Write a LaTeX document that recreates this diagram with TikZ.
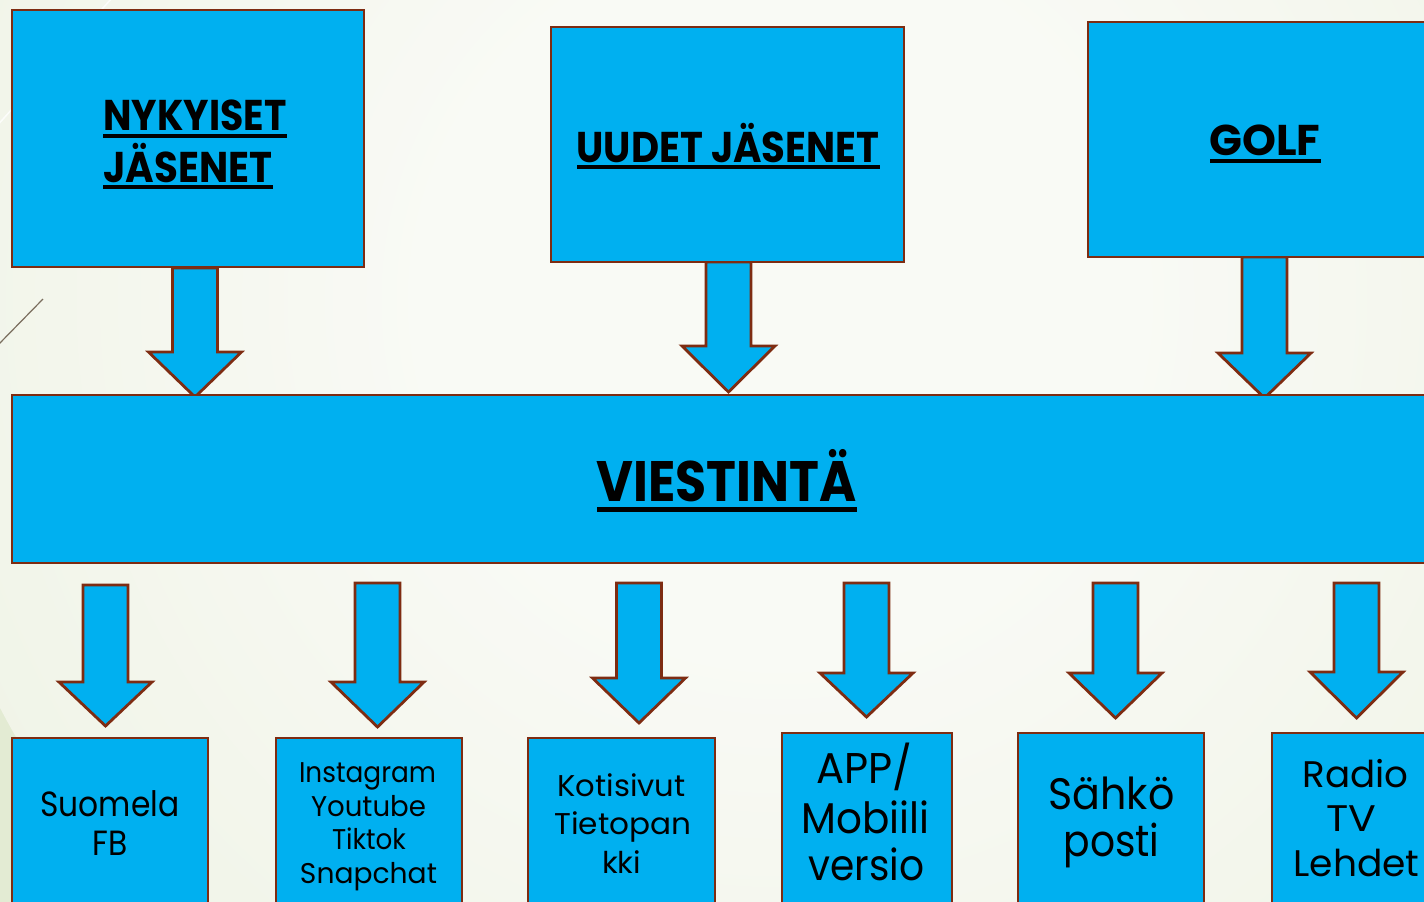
\documentclass[tikz,border=0pt]{standalone}
\usepackage{fontspec}
\setmainfont{Poppins}
\usepackage{graphicx}
\definecolor{boxfill}{HTML}{00B0F0}
\definecolor{boxline}{HTML}{7E2C12}
\definecolor{bgin}{HTML}{F9FAF5}
\definecolor{bgout}{HTML}{E3EBD3}
\definecolor{wisp}{HTML}{7A6E5E}
\pgfdeclareradialshading{bgshade}{\pgfpointorigin}{color(0bp)=(bgin); color(10bp)=(bgin); color(50bp)=(bgout)}
\tikzset{
  box/.style={draw=boxline, fill=boxfill, line width=2.8pt, rectangle, inner sep=0pt, outer sep=0pt, anchor=north west},
  blk/.style={draw=boxline, fill=boxfill, line width=2.8pt, line join=miter},
  tx/.style={inner sep=0pt, outer sep=0pt, anchor=base, text=black},
}
\newcommand\bx[5]{\node[box, minimum width=#4pt, minimum height=#5pt] (#1) at (#2,#3) {};}
\newcommand\barrow[4]{\draw[blk] (#1-22.5,#2) -- (#1+22.5,#2) -- (#1+22.5,#3) -- (#1+46.5,#3) -- (#1,#4) -- (#1-46.5,#3) -- (#1-22.5,#3) -- cycle;}
\newcommand\tline[6]{\node[tx,font=#2] (#1) at (#3,#4) {\resizebox{#5pt}{\height}{#6}};}
\newcommand\uline[3]{\fill[black] ([yshift=-#2pt]#1.base west) rectangle ([yshift=-#3pt]#1.base east);}
\newcommand\hdfont{\bfseries\fontsize{43}{43}\selectfont}
\begin{document}
\begin{tikzpicture}[x=1pt,y=-1pt]
\useasboundingbox (0,0) rectangle (1424,902);
\clip (0,0) rectangle (1424,902);
% background
\fill[bgout] (0,0) rectangle (1424,902);
\shade[shading=bgshade] (780,300) circle (880);
\draw[white, line width=1.5pt, opacity=0.8] (112,-2) -- (-5,128);
\draw[wisp, line width=1.2pt] (43,299) -- (-2,345);
% top arrows
\barrow{195}{268}{352}{397}
\barrow{728.5}{262}{346}{392}
\barrow{1264.5}{257}{353}{398}
% bottom arrows
\barrow{105.5}{585}{682}{726}
\barrow{377.5}{583}{682}{727}
\barrow{639}{583}{678}{723}
\barrow{866.5}{583}{673}{717}
\barrow{1115.5}{583}{673}{718}
\barrow{1356.5}{583}{672}{718}
% boxes
\bx{nyk}{12}{10}{352}{257}
\bx{uud}{551}{27}{353}{235}
\bx{golf}{1088}{22}{360}{235}
\bx{vie}{12}{395}{1430}{168}
\bx{suo}{12}{738}{196}{200}
\bx{ins}{276}{738}{186}{200}
\bx{kot}{528}{738}{187}{200}
\bx{app}{782}{733}{170}{200}
\bx{sah}{1018}{733}{186}{200}
\bx{rad}{1272}{733}{180}{200}
% headings
\tline{t1}{\hdfont}{195}{130}{183}{NYKYISET}
\uline{t1}{4}{7.5}
\tline{t2}{\hdfont}{188}{182}{169}{JÄSENET}
\uline{t2}{3}{6.5}
\tline{t3}{\hdfont}{728}{162}{303}{UUDET JÄSENET}
\uline{t3}{3}{6.5}
\tline{t4}{\hdfont}{1265}{155}{111}{GOLF}
\uline{t4}{4}{7.5}
\tline{t5}{\bfseries\fontsize{57}{57}\selectfont}{726.5}{501}{260}{VIESTINTÄ}
\uline{t5}{6}{11}
% bottom texts
\tline{s1}{\fontsize{35}{35}\selectfont}{110}{816}{139}{Suomela}
\tline{s2}{\fontsize{35}{35}\selectfont}{110}{855}{35}{FB}
\tline{i1}{\fontsize{28.5}{28.5}\selectfont}{367.5}{782.5}{137}{Instagram}
\tline{i2}{\fontsize{28.5}{28.5}\selectfont}{368.5}{816}{115}{Youtube}
\tline{i3}{\fontsize{28.5}{28.5}\selectfont}{369}{849.5}{74}{Tiktok}
\tline{i4}{\fontsize{28.5}{28.5}\selectfont}{368.5}{883}{137}{Snapchat}
\tline{k1}{\fontsize{30}{30}\selectfont}{621.5}{796}{128}{Kotisivut}
\tline{k2}{\fontsize{30}{30}\selectfont}{623}{834}{137}{Tietopan}
\tline{k3}{\fontsize{30}{30}\selectfont}{621.5}{873}{39}{kki}
\tline{a1}{\fontsize{43}{43}\selectfont}{864.5}{783}{96}{APP/}
\tline{a2}{\fontsize{43}{43}\selectfont}{865.5}{833}{128}{Mobiili}
\tline{a3}{\fontsize{43}{43}\selectfont}{866.5}{880}{116}{versio}
\tline{e1}{\fontsize{44}{44}\selectfont}{1111.5}{809}{126}{Sähkö}
\tline{e2}{\fontsize{44}{44}\selectfont}{1111.5}{856}{96}{posti}
\tline{r1}{\fontsize{37}{37}\selectfont}{1355.5}{787}{106}{Radio}
\tline{r2}{\fontsize{37}{37}\selectfont}{1351.5}{831}{50}{TV}
\tline{r3}{\fontsize{37}{37}\selectfont}{1356.5}{876}{126}{Lehdet}
\end{tikzpicture}
\end{document}
